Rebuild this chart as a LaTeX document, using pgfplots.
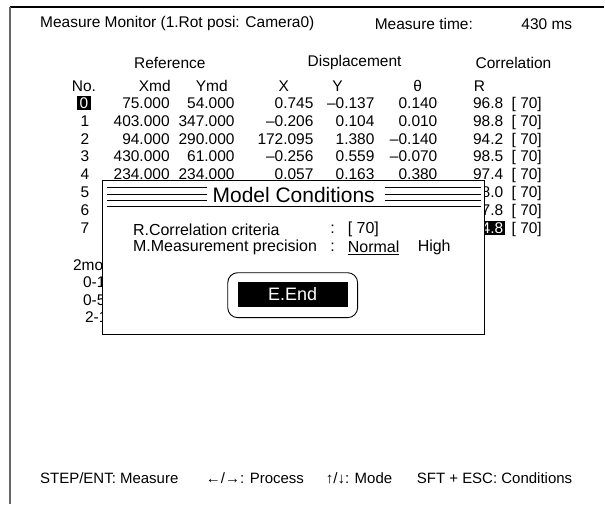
\documentclass[border=0pt]{standalone}
\usepackage{fontspec}
\setmainfont{Liberation Sans}
\usepackage{pgfplots}
\usepackage{pgfplotstable}
\pgfplotsset{compat=1.18}
\pgfplotstableread{
no y xmd ymd dx dy th r
0 103.0 75.000 54.000 0.745 –0.137 0.140 96.8
1 120.9 403.000 347.000 –0.206 0.104 0.010 98.8
2 138.7 94.000 290.000 172.095 1.380 –0.140 94.2
3 156.6 430.000 61.000 –0.256 0.559 –0.070 98.5
4 174.4 234.000 234.000 0.057 0.163 0.380 97.4
5 192.3 0 0 0 0 0 98.0
6 210.2 0 0 0 0 0 97.8
7 228.0 0 0 0 0 0 94.8
}\datatab
\newcommand{\bodyfont}{\fontsize{15.5bp}{18bp}\selectfont}
\newcommand{\dlgfont}{\fontsize{16bp}{19bp}\selectfont}
\newcommand{\botfont}{\fontsize{15bp}{18bp}\selectfont}
\tikzset{
  txt/.style={font=\bodyfont, inner sep=0pt},
  dlg/.style={font=\dlgfont, inner sep=0pt},
  bot/.style={font=\botfont, inner sep=0pt},
}
\begin{document}
\begin{tikzpicture}
\begin{axis}[
  set layers,
  width=605bp, height=505bp, scale only axis,
  xmin=0, xmax=605, ymin=0, ymax=505, y dir=reverse,
  hide axis, clip=false,
  every node near coord/.style={font=\bodyfont, inner sep=0pt, anchor=base east, yshift=-5.5bp},
]
\path (axis cs:0,0) rectangle (axis cs:605,505);
% frame
\draw[black, line width=1.3bp] (axis cs:10,7) -- (axis cs:605,7);
\draw[black!60, line width=1.3bp] (axis cs:10,7) -- (axis cs:10,505);
% title line
\node[txt, anchor=west] at (axis cs:40,24) {Measure Monitor (1.Rot posi: Camera0)};
\node[txt, anchor=west] at (axis cs:375,24) {Measure time:};
\node[txt, anchor=east] at (axis cs:573,24) {430 ms};
% headers
\node[txt] at (axis cs:170,63) {Reference};
\node[txt] at (axis cs:355,63) {Displacement};
\node[txt] at (axis cs:514,63) {Correlation};
\node[txt] at (axis cs:84,86) {No.};
\node[txt] at (axis cs:155,86) {Xmd};
\node[txt] at (axis cs:212,86) {Ymd};
\node[txt] at (axis cs:284,86) {X};
\node[txt] at (axis cs:338,86) {Y};
\node[txt] at (axis cs:418,86) {θ};
\node[txt] at (axis cs:480,86) {R};
% table columns
\addplot[draw=none, mark=none, nodes near coords, point meta=explicit symbolic,
  every node near coord/.append style={anchor=base}]
  table[x expr=85, y=y, meta=no, skip coords between index={0}{1}] {\datatab};
\addplot[draw=none, mark=none, nodes near coords, point meta=explicit symbolic,
  every node near coord/.append style={anchor=base, fill=black, text=white, inner xsep=2.5bp, inner ysep=1.5bp}]
  coordinates {(84,103) [0]};
\addplot[draw=none, mark=none, nodes near coords, point meta=explicit symbolic]
  table[x expr=170, y=y, meta=xmd, skip coords between index={5}{8}] {\datatab};
\addplot[draw=none, mark=none, nodes near coords, point meta=explicit symbolic]
  table[x expr=235, y=y, meta=ymd, skip coords between index={5}{8}] {\datatab};
\addplot[draw=none, mark=none, nodes near coords, point meta=explicit symbolic]
  table[x expr=314, y=y, meta=dx, skip coords between index={5}{8}] {\datatab};
\addplot[draw=none, mark=none, nodes near coords, point meta=explicit symbolic]
  table[x expr=375, y=y, meta=dy, skip coords between index={5}{8}] {\datatab};
\addplot[draw=none, mark=none, nodes near coords, point meta=explicit symbolic]
  table[x expr=438, y=y, meta=th, skip coords between index={5}{8}] {\datatab};
\addplot[draw=none, mark=none, nodes near coords, point meta=explicit symbolic]
  table[x expr=504, y=y, meta=r, skip coords between index={7}{8}] {\datatab};
\addplot[draw=none, mark=none, nodes near coords, point meta=explicit symbolic,
  every node near coord/.append style={fill=black, text=white, inner xsep=2bp, inner ysep=1.5bp, xshift=2bp}]
  coordinates {(504,228) [94.8]};
\addplot[draw=none, mark=none, nodes near coords={[ 70]},
  every node near coord/.append style={anchor=base west}]
  table[x expr=512, y=y] {\datatab};
% left lower labels
\node[txt, anchor=west] at (axis cs:73,265) {2model};
\node[txt, anchor=west] at (axis cs:83,282) {0-1};
\node[txt, anchor=west] at (axis cs:83,300) {0-5};
\node[txt, anchor=west] at (axis cs:85,317) {2-1};
% dialog (on top of everything)
\begin{pgfonlayer}{axis foreground}
\draw[black, fill=white, line width=0.9bp] (axis cs:103,181) rectangle (axis cs:485,335);
\draw[black, line width=0.8bp] (axis cs:107,188) -- (axis cs:207,188);
\draw[black, line width=0.8bp] (axis cs:107,194.5) -- (axis cs:207,194.5);
\draw[black, line width=0.8bp] (axis cs:107,201) -- (axis cs:207,201);
\draw[black, line width=0.8bp] (axis cs:385,188) -- (axis cs:482,188);
\draw[black, line width=0.8bp] (axis cs:385,194.5) -- (axis cs:482,194.5);
\draw[black, line width=0.8bp] (axis cs:385,201) -- (axis cs:482,201);
\draw[black, line width=0.8bp] (axis cs:107,207) -- (axis cs:482,207);
\node[font=\fontsize{21bp}{24bp}\selectfont, inner sep=0pt] at (axis cs:294,195) {Model Conditions};
\node[dlg, anchor=west] at (axis cs:133,230) {R.Correlation criteria};
\node[dlg, anchor=west] at (axis cs:133,248) {M.Measurement precision};
\node[dlg] at (axis cs:333,230) {:};
\node[dlg] at (axis cs:333,248) {:};
\node[dlg, anchor=west] at (axis cs:348,230) {[ 70]};
\node[dlg, anchor=west] at (axis cs:348,248) {\underline{Normal}};
\node[dlg, anchor=west] at (axis cs:418,248) {High};
\draw[black, line width=0.9bp, rounded corners=10bp] (axis cs:228,273) rectangle (axis cs:358,318);
\fill[black] (axis cs:238,282) rectangle (axis cs:348,307);
\node[font=\fontsize{18bp}{21bp}\selectfont, text=white, inner sep=0pt] at (axis cs:293,294.5) {E.End};
\end{pgfonlayer}
% bottom line
\node[bot, anchor=west] at (axis cs:40,479) {STEP/ENT: Measure};
\node[bot, anchor=west] at (axis cs:206,479) {←/→: Process};
\node[bot, anchor=west] at (axis cs:326,479) {↑/↓: Mode};
\node[bot, anchor=east] at (axis cs:573,479) {SFT + ESC: Conditions};
\end{axis}
\end{tikzpicture}
\end{document}
